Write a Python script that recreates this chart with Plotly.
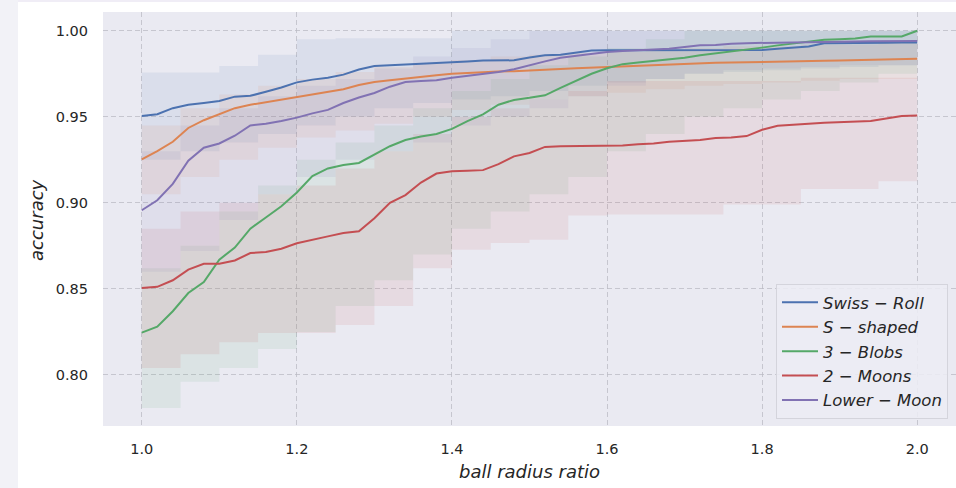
import plotly.graph_objects as go

# Sample positions of the ball radius ratio
radius = [round(1.0 + 0.02 * i, 2) for i in range(51)]
band_radius = [round(1.0 + 0.05 * i, 2) for i in range(21)]

labels = ["Swiss − Roll", "S − shaped", "3 − Blobs", "2 − Moons", "Lower − Moon"]
colors = ["#4c72b0", "#dd8452", "#55a868", "#c44e52", "#8172b3"]

# Mean accuracy per dataset
swiss_roll = [0.9504, 0.9515, 0.9550, 0.9570, 0.9580, 0.9592, 0.9617, 0.9622, 0.9645, 0.9670,
              0.9700, 0.9716, 0.9727, 0.9745, 0.9775, 0.9795, 0.9800, 0.9804, 0.9807, 0.9810,
              0.9818, 0.9822, 0.9827, 0.9828, 0.9828, 0.9845, 0.9857, 0.9860, 0.9872, 0.9885,
              0.9886, 0.9886, 0.9887, 0.9887, 0.9887, 0.9887, 0.9888, 0.9888, 0.9888, 0.9888,
              0.9888, 0.9895, 0.9900, 0.9908, 0.9927, 0.9929, 0.9930, 0.9931, 0.9931, 0.9932,
              0.9932]
s_shaped = [0.9252, 0.9300, 0.9355, 0.9435, 0.9480, 0.9515, 0.9550, 0.9570, 0.9585, 0.9600,
            0.9617, 0.9632, 0.9645, 0.9660, 0.9685, 0.9702, 0.9712, 0.9722, 0.9735, 0.9742,
            0.9750, 0.9755, 0.9760, 0.9763, 0.9765, 0.9768, 0.9772, 0.9778, 0.9782, 0.9786,
            0.9789, 0.9793, 0.9797, 0.9801, 0.9804, 0.9808, 0.9811, 0.9814, 0.9815, 0.9816,
            0.9817, 0.9818, 0.9820, 0.9822, 0.9825, 0.9827, 0.9829, 0.9831, 0.9834, 0.9836,
            0.9838]
three_blobs = [0.8246, 0.8280, 0.8370, 0.8476, 0.8540, 0.8670, 0.8740, 0.8850, 0.8915, 0.8980,
               0.9060, 0.9155, 0.9200, 0.9220, 0.9232, 0.9280, 0.9329, 0.9365, 0.9385, 0.9400,
               0.9430, 0.9475, 0.9514, 0.9570, 0.9598, 0.9610, 0.9625, 0.9668, 0.9710, 0.9750,
               0.9782, 0.9806, 0.9815, 0.9824, 0.9832, 0.9843, 0.9858, 0.9868, 0.9880, 0.9890,
               0.9902, 0.9915, 0.9926, 0.9936, 0.9948, 0.9951, 0.9955, 0.9966, 0.9966, 0.9967,
               1.0000]
two_moons = [0.8505, 0.8512, 0.8550, 0.8612, 0.8646, 0.8646, 0.8665, 0.8708, 0.8714, 0.8733,
             0.8765, 0.8783, 0.8805, 0.8825, 0.8835, 0.8910, 0.9000, 0.9045, 0.9118, 0.9170,
             0.9183, 0.9187, 0.9190, 0.9225, 0.9270, 0.9290, 0.9325, 0.9329, 0.9330, 0.9331,
             0.9332, 0.9333, 0.9340, 0.9345, 0.9355, 0.9358, 0.9365, 0.9377, 0.9380, 0.9388,
             0.9425, 0.9448, 0.9456, 0.9460, 0.9466, 0.9468, 0.9470, 0.9475, 0.9490, 0.9504,
             0.9507]
lower_moon = [0.8957, 0.9015, 0.9110, 0.9245, 0.9320, 0.9345, 0.9390, 0.9450, 0.9460, 0.9475,
              0.9495, 0.9520, 0.9540, 0.9580, 0.9612, 0.9638, 0.9675, 0.9702, 0.9708, 0.9713,
              0.9727, 0.9738, 0.9748, 0.9760, 0.9776, 0.9800, 0.9822, 0.9843, 0.9855, 0.9866,
              0.9876, 0.9883, 0.9886, 0.9890, 0.9896, 0.9905, 0.9916, 0.9917, 0.9925, 0.9928,
              0.9930, 0.9932, 0.9934, 0.9935, 0.9936, 0.9937, 0.9938, 0.9939, 0.9940, 0.9940,
              0.9941]

# Spread of accuracy across runs (lower / upper envelope)
swiss_roll_lo = [0.925, 0.930, 0.935, 0.940, 0.945, 0.950, 0.955, 0.958, 0.960, 0.962, 0.965,
                 0.968, 0.970, 0.972, 0.975, 0.976, 0.977, 0.978, 0.979, 0.980, 0.980]
swiss_roll_hi = [0.9757, 0.9757, 0.9795, 0.986, 0.995, 0.9956, 0.9956, 0.9956, 1.0, 1.0, 1.0,
                 1.0, 1.0, 1.0, 1.0, 1.0, 1.0, 1.0, 1.0, 1.0, 1.0]
s_shaped_lo = [0.905, 0.915, 0.925, 0.932, 0.938, 0.942, 0.946, 0.950, 0.954, 0.957, 0.960,
               0.962, 0.964, 0.966, 0.968, 0.969, 0.970, 0.971, 0.972, 0.972, 0.973]
s_shaped_hi = [0.945, 0.955, 0.963, 0.968, 0.972, 0.976, 0.979, 0.981, 0.983, 0.985, 0.986,
               0.987, 0.988, 0.989, 0.990, 0.991, 0.991, 0.992, 0.992, 0.993, 0.993]
three_blobs_lo = [0.7808, 0.796, 0.804, 0.815, 0.825, 0.840, 0.855, 0.870, 0.885, 0.895, 0.905,
                  0.915, 0.930, 0.940, 0.950, 0.955, 0.960, 0.965, 0.970, 0.975, 0.978]
three_blobs_hi = [0.862, 0.875, 0.895, 0.910, 0.925, 0.935, 0.945, 0.955, 0.965, 0.972, 0.980,
                  0.985, 0.990, 0.995, 1.0, 1.0, 1.0, 1.0, 1.0, 1.0, 1.0]
two_moons_lo = [0.804, 0.812, 0.819, 0.8243, 0.8243, 0.829, 0.840, 0.862, 0.8728, 0.8767, 0.8786,
                0.8926, 0.8932, 0.8932, 0.8932, 0.899, 0.899, 0.9081, 0.9081, 0.9126, 0.9126]
two_moons_hi = [0.885, 0.895, 0.900, 0.905, 0.910, 0.920, 0.930, 0.940, 0.950, 0.955, 0.960,
                0.965, 0.9708, 0.9708, 0.9708, 0.9708, 0.9708, 0.9727, 0.9727, 0.9727, 0.9727]
lower_moon_lo = [0.860, 0.872, 0.890, 0.905, 0.915, 0.925, 0.930, 0.935, 0.945, 0.950, 0.955,
                 0.962, 0.968, 0.972, 0.975, 0.977, 0.978, 0.979, 0.980, 0.980, 0.980]
lower_moon_hi = [0.930, 0.945, 0.955, 0.962, 0.968, 0.972, 0.978, 0.985, 0.990, 0.995, 1.0,
                 1.0, 1.0, 1.0, 1.0, 1.0, 1.0, 1.0, 1.0, 1.0, 1.0]

means = [swiss_roll, s_shaped, three_blobs, two_moons, lower_moon]
lows = [swiss_roll_lo, s_shaped_lo, three_blobs_lo, two_moons_lo, lower_moon_lo]
highs = [swiss_roll_hi, s_shaped_hi, three_blobs_hi, two_moons_hi, lower_moon_hi]


def rgba(hex_color, alpha):
    h = hex_color.lstrip("#")
    r, g, b = int(h[0:2], 16), int(h[2:4], 16), int(h[4:6], 16)
    return f"rgba({r},{g},{b},{alpha})"


fig = go.Figure()

# Shaded envelopes
for lo, hi, col in zip(lows, highs, colors):
    fig.add_trace(go.Scatter(x=band_radius, y=hi, mode="lines", line=dict(width=0, shape="hv"),
                             showlegend=False, hoverinfo="skip"))
    fig.add_trace(go.Scatter(x=band_radius, y=lo, mode="lines", line=dict(width=0, shape="hv"),
                             fill="tonexty", fillcolor=rgba(col, 0.1),
                             showlegend=False, hoverinfo="skip"))

# Mean curves
for i, (name, y, col) in enumerate(zip(labels, means, colors)):
    fig.add_trace(go.Scatter(x=radius, y=y, mode="lines", name=f"<i>{name}</i>",
                             legendgroup=f"g{i}", line=dict(color=col, width=2)))

W, H = 956, 488
L, R, T, B = 103, 0, 12, 62
pw, ph = W - L - R, H - T - B


def px_x(p):
    return (p - L) / pw


def px_y(p):
    return (H - B - p) / ph


text_col = "#262626"
fig.update_layout(
    width=W, height=H,
    margin=dict(l=L, r=R, t=T, b=B),
    paper_bgcolor="white",
    plot_bgcolor="#eaeaf2",
    font=dict(family="DejaVu Sans", color=text_col, size=14.5),
    showlegend=True,
    legend=dict(
        x=px_x(948), y=px_y(419), xanchor="right", yanchor="bottom",
        bgcolor="rgba(236,236,244,0.85)", bordercolor="#d4d4dc", borderwidth=1,
        font=dict(family="DejaVu Sans", size=16.5, color=text_col),
        traceorder="normal", tracegroupgap=4, itemwidth=36,
    ),
    xaxis=dict(
        range=[0.95, 2.05], tickvals=[1.0, 1.2, 1.4, 1.6, 1.8, 2.0], tickformat=".1f",
        showgrid=True, gridcolor="rgba(185,185,195,0.75)", gridwidth=1, griddash="5px,3px",
        zeroline=False, showline=False, ticks="", ticklabelstandoff=12,
        tickfont=dict(size=14.5, color=text_col),
    ),
    yaxis=dict(
        range=[0.7703, 1.0109], tickvals=[0.80, 0.85, 0.90, 0.95, 1.00], tickformat=".2f",
        showgrid=True, gridcolor="rgba(185,185,195,0.75)", gridwidth=1, griddash="5px,3px",
        zeroline=False, showline=False, ticks="", ticklabelstandoff=14,
        tickfont=dict(size=14.5, color=text_col),
    ),
    shapes=[
        dict(type="rect", xref="paper", yref="paper", x0=px_x(0), x1=px_x(18),
             y0=px_y(H), y1=px_y(0), fillcolor="#f2f2f7", line=dict(width=0), layer="below"),
        dict(type="rect", xref="paper", yref="paper", x0=px_x(18), x1=px_x(W),
             y0=px_y(2), y1=px_y(0), fillcolor="#f0edf6", line=dict(width=0), layer="below"),
    ],
    annotations=[
        dict(text="<i>ball radius ratio</i>", xref="paper", yref="paper",
             x=px_x(529), y=px_y(471.5), xanchor="center", yanchor="middle",
             showarrow=False, font=dict(size=18, color=text_col)),
        dict(text="<i>accuracy</i>", xref="paper", yref="paper", textangle=-90,
             x=px_x(36), y=px_y(220), xanchor="center", yanchor="middle",
             showarrow=False, font=dict(size=18, color=text_col)),
    ],
)

fig.write_html("out.html")
